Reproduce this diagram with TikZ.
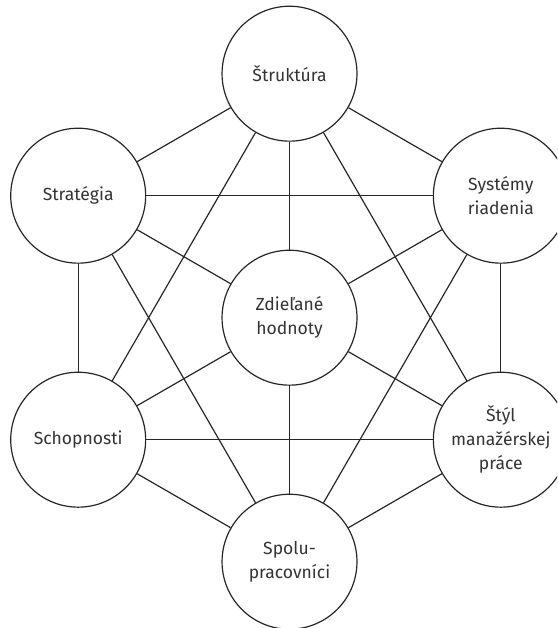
\documentclass[tikz,border=0pt]{standalone}
\usepackage{fontspec}
\setmainfont{Fira Sans}
\usepackage{tikz}
\usetikzlibrary{positioning}

\begin{document}
\begin{tikzpicture}[
    element/.style={draw=black!85, circle, line width=0.9pt, minimum size=3.57cm,
        inner sep=0pt, fill=white, align=center, text=black!80,
        font=\fontsize{13.2}{18}\selectfont},
    link/.style={draw=black!85, line width=0.9pt}
]
    \useasboundingbox (-7.66,-8.21) rectangle (7.078,8.406);
    \clip (-7.66,-8.21) rectangle (7.078,8.406);

    % outer ring of the model
    \node[element] (struktura) at (90:6.456) {Štruktúra};
    \node[element] (strategia) at (150:6.456) {Stratégia};
    \node[element] (systemy) at (30:6.456) {Systémy\\riadenia};
    \node[element] (schopnosti) at (210:6.456) {Schopnosti};
    \node[element] (styl) at (330:6.456) {Štýl\\manažérskej\\práce};
    \node[element] (spolu) at (270:6.456) {Spolu-\\pracovníci};
    \node[element] (hodnoty) at (0,0) {Zdieľané\\hodnoty};

    % links between the outer elements
    \draw[link] (struktura) -- (strategia);
    \draw[link] (struktura) -- (systemy);
    \draw[link] (struktura) -- (schopnosti);
    \draw[link] (struktura) -- (styl);
    \draw[link] (strategia) -- (systemy);
    \draw[link] (strategia) -- (schopnosti);
    \draw[link] (strategia) -- (spolu);
    \draw[link] (systemy) -- (styl);
    \draw[link] (systemy) -- (spolu);
    \draw[link] (schopnosti) -- (styl);
    \draw[link] (schopnosti) -- (spolu);
    \draw[link] (styl) -- (spolu);

    % links to the centre
    \draw[link] (hodnoty) -- (struktura);
    \draw[link] (hodnoty) -- (strategia);
    \draw[link] (hodnoty) -- (systemy);
    \draw[link] (hodnoty) -- (schopnosti);
    \draw[link] (hodnoty) -- (styl);
    \draw[link] (hodnoty) -- (spolu);
\end{tikzpicture}
\end{document}
